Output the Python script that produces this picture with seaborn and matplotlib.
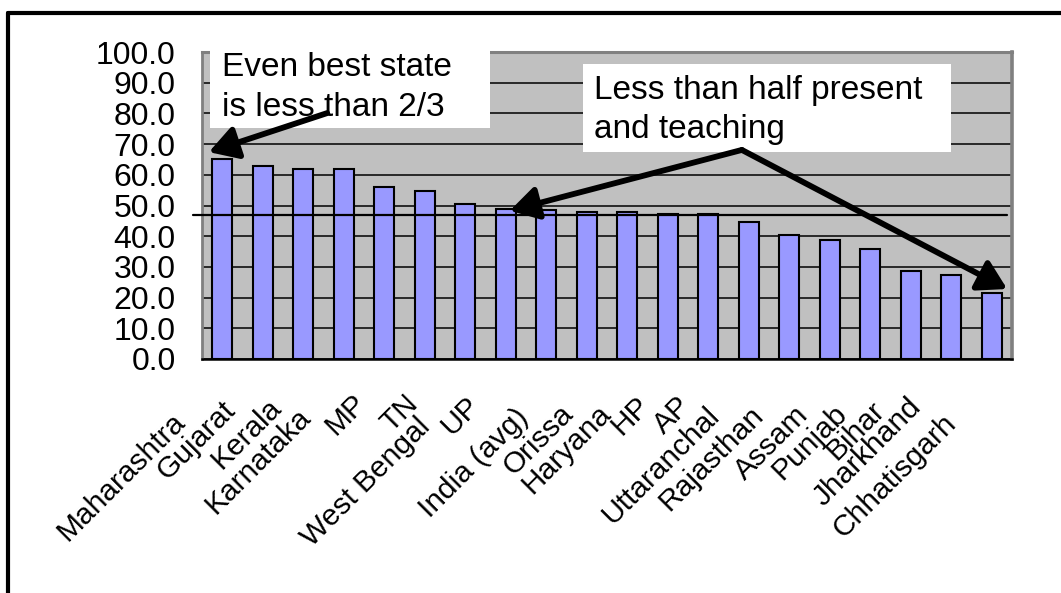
import numpy as np
import pandas as pd
import seaborn as sns
import matplotlib
matplotlib.use("Agg")
import matplotlib.pyplot as plt
from matplotlib.transforms import ScaledTranslation
from matplotlib.lines import Line2D
from matplotlib.patches import Rectangle

# Teachers present and teaching (%), by state, sorted high to low
states = ["Maharashtra", "Gujarat", "Kerala", "Karnataka", "MP", "TN",
          "West Bengal", "UP", "India (avg)", "Orissa", "Haryana", "HP", "AP",
          "Uttaranchal", "Rajasthan", "Assam", "Punjab", "Bihar", "Jharkhand",
          "Chhatisgarh"]
present_teaching = [65.1, 62.9, 61.9, 61.9, 55.9, 54.6, 50.5, 48.8, 48.5, 47.8,
                    47.8, 47.3, 47.3, 44.5, 40.3, 38.9, 35.8, 28.8, 27.4, 21.4]
reference_level = 46.8
y_ticks = [0, 10, 20, 30, 40, 50, 60, 70, 80, 90, 100]
y_tick_labels = [f"{v:.1f}" for v in y_ticks]
note_best = "Even best state\nis less than 2/3"
note_half = "Less than half present\nand teaching"

sns.set_style("white")
plt.rcParams["font.family"] = ["Liberation Sans", "DejaVu Sans"]
plt.rcParams["text.color"] = "black"
plt.rcParams["xtick.color"] = "black"
plt.rcParams["ytick.color"] = "black"
plt.rcParams["xtick.labelcolor"] = "black"
plt.rcParams["ytick.labelcolor"] = "black"

DPI = 100
W, H = 1061, 593
fig = plt.figure(figsize=(W / DPI, H / DPI), dpi=DPI)
fig.patch.set_facecolor("white")

# plot rectangle in pixels: left 202, right 1012, top 52, bottom 359
ax = fig.add_axes([202 / W, (H - 359) / H, 810 / W, 307 / H])
ax.set_facecolor("#C0C0C0")

df = pd.DataFrame({"state": states, "pct": present_teaching})
sns.barplot(data=df, x="state", y="pct", color="#9999FF", saturation=1,
            width=0.5, edgecolor="black", linewidth=1.5, ax=ax, zorder=3)

ax.set_xlabel("")
ax.set_ylabel("")
ax.set_xlim(-0.5, len(states) - 0.5)
ax.set_ylim(0, 100)

# horizontal grid
ax.set_axisbelow(True)
ax.set_yticks(y_ticks)
ax.set_yticklabels(y_tick_labels)
ax.yaxis.grid(True, color="black", linewidth=1.1)
ax.xaxis.grid(False)
ax.tick_params(axis="y", length=0, pad=19, labelsize=23, labelcolor="black")

# frame
for side in ("left", "top", "right"):
    ax.spines[side].set_color("#808080")
ax.spines["left"].set_linewidth(2.0)
ax.spines["top"].set_linewidth(2.2)
ax.spines["right"].set_linewidth(2.6)
ax.spines["bottom"].set_color("black")
ax.spines["bottom"].set_linewidth(1.8)
for s in ax.spines.values():
    s.set_zorder(4)

# category boundary tick marks and rotated state names
ax.set_xticks(np.arange(len(states)))
ax.set_xticklabels(states, rotation=45, ha="right", va="top",
                   rotation_mode="anchor", fontsize=21.5, color="black")
ax.tick_params(axis="x", which="major", length=0, pad=0)
ax.set_xticks(np.arange(-0.5, len(states), 1.0), minor=True)
ax.tick_params(axis="x", which="minor", length=7, width=1.3,
               color="black", direction="out")

# staggered placement of the slanted names (pixel shifts: right, down)
label_shift = [(-51, 49), (-42, 37), (-36, 34), (-47, 44), (-32, 30),
               (-21, 30), (-49, 54), (-40, 32), (-32, 44), (-28, 40),
               (-31, 40), (-32, 32), (-32, 32), (-43, 42), (-40, 42),
               (-36, 42), (-38, 40), (-40, 37), (-44, 34), (-50, 50)]
for lab, (dx, dy) in zip(ax.get_xticklabels(), label_shift):
    lab.set_transform(lab.get_transform() +
                      ScaledTranslation(dx / DPI, -dy / DPI, fig.dpi_scale_trans))

# reference level line, reaching slightly past the left edge
ax.axhline(reference_level, xmin=-0.011, xmax=0.994, color="black",
           linewidth=1.6, clip_on=False, zorder=5)

# callout boxes
ax.add_patch(Rectangle((-0.30, 75.2), 6.91, 27.1, facecolor="white",
                       edgecolor="none", clip_on=False, zorder=6))
ax.text(-0.01, 99.9, note_best, ha="left", va="top", fontsize=24,
        linespacing=1.36, zorder=7, clip_on=False)

ax.add_patch(Rectangle((8.91, 67.4), 9.09, 28.7, facecolor="white",
                       edgecolor="none", clip_on=False, zorder=6))
ax.text(9.18, 92.4, note_half, ha="left", va="top", fontsize=24,
        linespacing=1.33, zorder=7, clip_on=False)

arrow_kw = dict(arrowstyle="-|>,head_length=0.85,head_width=0.5",
                mutation_scale=20, color="black", linewidth=4.2,
                shrinkA=0, shrinkB=0)
ax.annotate("", xy=(-0.33, 67.4), xytext=(2.59, 80.1),
            arrowprops=arrow_kw, annotation_clip=False, zorder=8)
ax.annotate("", xy=(7.10, 48.3), xytext=(12.83, 68.1),
            arrowprops=arrow_kw, annotation_clip=False, zorder=8)
ax.annotate("", xy=(19.38, 22.8), xytext=(12.83, 68.1),
            arrowprops=arrow_kw, annotation_clip=False, zorder=8)

# outer frame (top and left edges)
top_y = 1 - 13 / H
left_x = 8 / W
fig.add_artist(Line2D([left_x, 1.0], [top_y, top_y], color="black",
                      linewidth=3.0, transform=fig.transFigure))
fig.add_artist(Line2D([left_x, left_x], [0.0, top_y], color="black",
                      linewidth=3.0, transform=fig.transFigure))

fig.savefig("out.png", dpi=DPI, facecolor="white")
